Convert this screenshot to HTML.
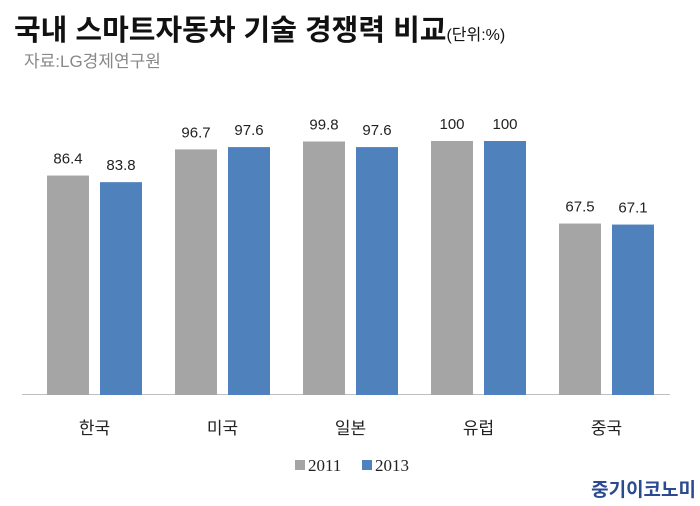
<!DOCTYPE html>
<html><head><meta charset="utf-8"><style>
body{margin:0;background:#fff;width:700px;height:501px;overflow:hidden}
svg text{font-family:"Liberation Sans","Noto Sans CJK KR",sans-serif}
</style></head><body>
<svg width="700" height="501">
<text x="14" y="40" font-size="29" font-weight="bold" fill="#111">국내 스마트자동차 기술 경쟁력 비교<tspan font-size="16" font-weight="normal">(단위:%)</tspan></text>
<text x="24" y="67" font-size="17" fill="#888">자료:LG경제연구원</text>
<line x1="22" y1="394.5" x2="670" y2="394.5" stroke="#bfbfbf" stroke-width="1"/>
<g id="bars"></g>
<g>
<rect x="295" y="460" width="10" height="10" fill="#a5a5a5"/>
<text x="308" y="471" font-size="17" style="font-family:'Liberation Serif',serif" fill="#222">2011</text>
<rect x="362" y="460" width="10" height="10" fill="#4f81bd"/>
<text x="375" y="471" font-size="17" style="font-family:'Liberation Serif',serif" fill="#222">2013</text>
</g>
<text x="696" y="496" text-anchor="end" font-size="19" font-weight="bold" fill="#2b4a8f">중기이코노미</text>
</svg>
<script>
const categories=["한국","미국","일본","유럽","중국"];
const values2011=[86.4,96.7,99.8,100,67.5];
const values2013=[83.8,97.6,97.6,100,67.1];
const labels2011=["86.4","96.7","99.8","100","67.5"];
const labels2013=["83.8","97.6","97.6","100","67.1"];
const base=395, pxPerUnit=2.54, x0=94.5, step=128, bw=42, gap=11;
const y=v=>base-v*pxPerUnit;
const g=document.getElementById('bars');
const NS="http://www.w3.org/2000/svg";
function mk(tag,attrs){const e=document.createElementNS(NS,tag);for(const k in attrs)e.setAttribute(k,attrs[k]);return e;}
categories.forEach((c,i)=>{
  const cx=x0+i*step;
  [[values2011,labels2011,"#a5a5a5",cx-gap/2-bw,"2011"],[values2013,labels2013,"#4f81bd",cx+gap/2,"2013"]].forEach(([vals,labs,col,x,yr])=>{
    const r=mk('rect',{x:x,y:y(vals[i]),width:bw,height:base-y(vals[i]),fill:col});
    
    
    g.appendChild(r);
    const t=mk('text',{x:x+bw/2,y:y(vals[i])-12,'text-anchor':'middle','font-size':'15',fill:'#222'});
    t.textContent=labs[i];
    
    
    g.appendChild(t);
  });
  const l=mk('text',{x:cx,y:434,'text-anchor':'middle','font-size':'17',fill:'#222'});
  l.textContent=c;
  
  
  g.appendChild(l);
});
</script>
</body></html>
